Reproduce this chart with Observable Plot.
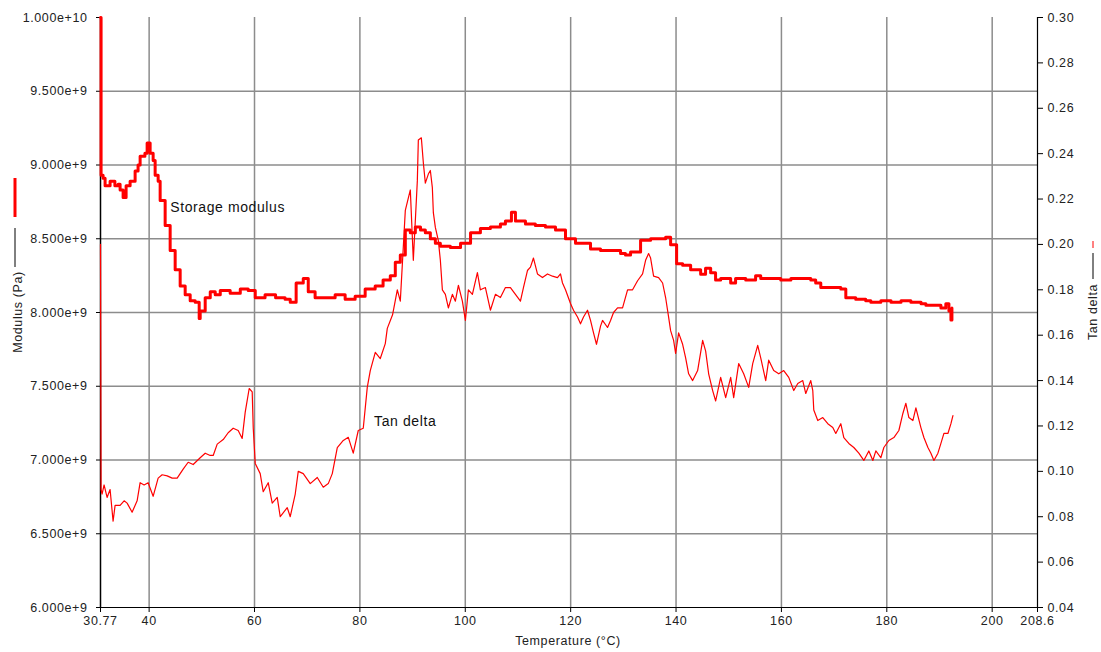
<!DOCTYPE html>
<html><head><meta charset="utf-8">
<script src="https://cdn.jsdelivr.net/npm/d3@7"></script>
<script src="https://cdn.jsdelivr.net/npm/@observablehq/plot@0.6"></script>
<style>
html,body{margin:0;padding:0;background:#fff;}
#chart svg{display:block;}
#chart svg text{letter-spacing:0.6px;}
</style>
</head><body><div id="chart"></div>
<script>
// ---- data ----
const xTicks = [30.77, 40, 60, 80, 100, 120, 140, 160, 180, 200, 208.6];
const xGridTicks = [40, 60, 80, 100, 120, 140, 160, 180, 200];
const modulusTicks = [6.0e9, 6.5e9, 7.0e9, 7.5e9, 8.0e9, 8.5e9, 9.0e9, 9.5e9, 1.0e10];
const tanTicks = [0.04, 0.06, 0.08, 0.10, 0.12, 0.14, 0.16, 0.18, 0.20, 0.22, 0.24, 0.26, 0.28, 0.30];

// Storage modulus [temperature °C, modulus GPa-scale e9 Pa]
const storageModulus = [
 [30.77,10.0],[30.88,8.93],[31.26,8.91],[31.64,8.86],[32.59,8.89],[33.5,8.86],[34.11,8.87],[34.49,8.83],
 [35.06,8.78],[35.63,8.86],[36.39,8.89],[37.34,8.96],[37.9,9.0],[38.29,9.06],[39.2,9.08],[39.62,9.15],
 [40.19,9.08],[40.76,9.03],[41.14,8.93],[41.71,8.89],[42.09,8.76],[43.04,8.59],[43.99,8.42],[44.94,8.29],
 [45.89,8.18],[46.84,8.12],[47.79,8.08],[48.74,8.07],[49.5,7.96],[49.69,8.01],[50.64,8.10],[51.6,8.14],
 [52.54,8.12],[53.5,8.15],[55.38,8.13],[57.3,8.16],[58.8,8.15],[60.14,8.10],[62.0,8.12],[64.0,8.10],
 [65.8,8.09],[66.78,8.07],[67.9,8.20],[69.25,8.23],[70.2,8.14],[71.5,8.10],[73.4,8.10],[75.3,8.12],
 [77.2,8.09],[79.1,8.11],[81.0,8.16],[82.9,8.18],[84.4,8.22],[85.77,8.25],[86.72,8.34],[87.67,8.39],
 [88.62,8.56],[89.57,8.54],[90.52,8.58],[91.5,8.56],[92.42,8.54],[93.37,8.50],[94.32,8.47],[95.27,8.45],
 [97.17,8.44],[99.1,8.47],[100.02,8.47],[101.0,8.54],[102.87,8.57],[104.77,8.58],[106.67,8.60],[107.62,8.62],
 [108.76,8.68],[109.52,8.62],[111.42,8.60],[113.3,8.59],[115.22,8.58],[117.12,8.56],[119.02,8.50],[120.92,8.47],
 [122.8,8.47],[123.77,8.43],[125.67,8.42],[127.57,8.42],[129.47,8.40],[130.4,8.39],[131.37,8.41],[133.27,8.49],
 [135.17,8.50],[137.1,8.50],[138.02,8.51],[138.97,8.46],[140.11,8.33],[141.25,8.32],[142.77,8.29],[144.67,8.26],
 [145.6,8.30],[146.57,8.27],[147.5,8.22],[148.47,8.23],[150.37,8.20],[151.3,8.23],[153.22,8.22],[155.1,8.25],
 [156.07,8.23],[158.0,8.23],[159.87,8.22],[161.8,8.23],[163.67,8.23],[165.57,8.22],[166.5,8.20],[167.47,8.17],
 [169.4,8.17],[171.27,8.16],[172.22,8.10],[174.1,8.09],[176.0,8.08],[176.97,8.07],[178.87,8.08],[180.8,8.07],
 [182.7,8.08],[184.57,8.07],[186.5,8.06],[187.42,8.05],[189.3,8.05],[190.27,8.03],[191.2,8.06],[191.79,8.01],
 [192.17,7.95],[192.36,8.03]
];

// Tan delta [temperature °C, tan delta]
const tanDelta = [
 [30.77,0.200],[30.88,0.092],[31.07,0.090],[31.45,0.094],[32.02,0.0885],[32.59,0.092],[33.16,0.078],[33.54,0.085],
 [34.49,0.085],[35.25,0.087],[35.82,0.086],[36.77,0.082],[37.72,0.087],[38.29,0.095],[39.05,0.094],[39.81,0.095],
 [40.76,0.089],[41.71,0.097],[42.47,0.0985],[43.42,0.098],[44.37,0.097],[45.32,0.097],[46.46,0.101],[47.41,0.104],
 [48.36,0.103],[49.69,0.106],[50.64,0.108],[51.59,0.107],[52.16,0.107],[52.92,0.112],[54.06,0.114],[55.0,0.117],
 [55.95,0.119],[56.9,0.118],[57.66,0.1145],[58.23,0.126],[58.99,0.1365],[59.56,0.135],[59.76,0.119],[60.14,0.1035],
 [61.08,0.099],[61.65,0.091],[62.60,0.095],[63.36,0.086],[64.31,0.0885],[64.88,0.080],[66.21,0.084],[66.78,0.080],
 [67.73,0.090],[68.30,0.100],[69.25,0.099],[70.58,0.0946],[71.91,0.0973],[73.05,0.093],[74.00,0.0946],[74.76,0.099],
 [75.71,0.1105],[76.85,0.1136],[77.80,0.115],[78.74,0.108],[79.69,0.118],[80.64,0.119],[81.40,0.137],[81.97,0.1444],
 [82.92,0.1524],[83.87,0.1497],[84.82,0.1563],[85.20,0.163],[86.2,0.169],[87.10,0.180],[87.67,0.175],[88.62,0.215],
 [89.57,0.224],[90.14,0.193],[90.90,0.228],[91.09,0.246],[91.66,0.247],[92.04,0.236],[92.42,0.227],[92.99,0.231],
 [93.37,0.2326],[93.75,0.225],[93.94,0.214],[94.32,0.2075],[94.89,0.2017],[95.27,0.193],[95.65,0.180],[96.22,0.178],
 [96.79,0.172],[97.55,0.178],[98.12,0.175],[98.69,0.182],[99.45,0.175],[100.02,0.1665],[100.59,0.180],[101.35,0.178],
 [102.30,0.1876],[102.87,0.180],[103.82,0.181],[104.77,0.171],[105.72,0.178],[106.67,0.1766],[107.62,0.181],[108.57,0.181],
 [109.52,0.178],[110.47,0.175],[111.04,0.181],[111.80,0.1885],[112.37,0.190],[112.94,0.194],[113.70,0.187],[114.65,0.1854],
 [115.60,0.187],[116.55,0.186],[117.50,0.1854],[118.07,0.187],[118.45,0.183],[119.02,0.180],[119.97,0.174],[120.54,0.171],
 [121.30,0.168],[121.87,0.165],[122.44,0.168],[123.20,0.171],[123.77,0.1665],[124.34,0.161],[124.9,0.156],[125.67,0.164],
 [126.05,0.1665],[127.00,0.1634],[127.57,0.1665],[128.14,0.170],[128.90,0.172],[129.85,0.172],[130.80,0.180],[131.75,0.180],
 [132.70,0.184],[133.65,0.187],[134.22,0.193],[134.79,0.196],[135.17,0.194],[135.74,0.186],[136.69,0.1854],[137.45,0.183],
 [138.02,0.1766],[138.59,0.168],[138.97,0.162],[139.54,0.1577],[139.92,0.152],[140.49,0.161],[141.25,0.156],[141.82,0.150],
 [142.39,0.143],[143.15,0.140],[144.10,0.1444],[145.05,0.1577],[145.62,0.153],[146.19,0.143],[146.95,0.1356],[147.52,0.131],
 [148.47,0.1414],[149.42,0.1325],[150.37,0.1414],[150.94,0.1325],[151.89,0.1475],[152.84,0.143],[153.79,0.137],[154.55,0.1475],
 [155.50,0.1555],[156.07,0.150],[157.02,0.140],[157.59,0.149],[158.54,0.1444],[159.49,0.143],[160.44,0.1444],[161.39,0.1414],
 [162.34,0.1356],[163.10,0.1387],[164.05,0.140],[164.62,0.1343],[165.57,0.140],[165.95,0.1356],[166.14,0.127],[166.90,0.1224],
 [167.85,0.1237],[168.80,0.121],[169.75,0.1193],[170.32,0.1167],[171.27,0.121],[171.84,0.1149],[172.79,0.1123],[173.74,0.1105],
 [174.69,0.108],[175.64,0.1048],[176.59,0.109],[177.35,0.1048],[177.92,0.109],[178.87,0.106],[179.44,0.1105],[180.39,0.1136],
 [181.34,0.1149],[182.29,0.118],[183.05,0.1255],[183.62,0.130],[184.19,0.1237],[184.95,0.1224],[185.52,0.128],[186.47,0.1193],
 [187.04,0.1149],[187.80,0.1105],[188.37,0.108],[188.94,0.1048],[189.70,0.108],[190.27,0.1123],[190.84,0.1167],[191.60,0.1167],
 [192.17,0.121],[192.55,0.1246]
];

const seriesLabels = [
 {x: 44.0, y: 8.712e9, text: "Storage modulus"},
 {x: 82.7, y: 7.261e9, text: "Tan delta"}
];
const xTitle = "Temperature (°C)";
const leftTitle = "Modulus (Pa)";
const rightTitle = "Tan delta";

// ---- scales helpers ----
const modDomain = [6e9, 1e10];
const tanDomain = [0.04, 0.30];
const tanToMod = t => modDomain[0] + (t - tanDomain[0]) / (tanDomain[1] - tanDomain[0]) * (modDomain[1] - modDomain[0]);
const modToTan = m => tanDomain[0] + (m - modDomain[0]) / (modDomain[1] - modDomain[0]) * (tanDomain[1] - tanDomain[0]);
const fmtSci = d => { const e = Math.floor(Math.log10(d) + 1e-9); return (d / Math.pow(10, e)).toFixed(3) + "e+" + e; };

const gridStyle = {stroke: "#8c8c8c", strokeOpacity: 1, strokeWidth: 1.5};

const chart = Plot.plot({
  width: 1101, height: 652,
  marginLeft: 100, marginRight: 64, marginTop: 17, marginBottom: 45,
  x: {domain: [30.77, 208.6]},
  y: {domain: modDomain},
  style: {fontFamily: "'Liberation Sans', Arial, sans-serif", fontSize: "12.5px", color: "#222", background: "#fff"},
  marks: [
    Plot.gridX(xGridTicks, gridStyle),
    Plot.gridY(modulusTicks.slice(1, -1), gridStyle),
    Plot.axisX({ticks: xTicks, tickFormat: d => String(d), tickSize: 5, tickPadding: 4, label: null, stroke: "#000"}),
    Plot.axisY({ticks: modulusTicks, tickFormat: fmtSci, tickSize: 4, tickPadding: 9, label: null, stroke: "#000"}),
    Plot.axisY({anchor: "right", ticks: tanTicks.map(tanToMod), tickFormat: d => modToTan(d).toFixed(2), tickSize: 5, tickPadding: 5, label: null, stroke: "#000"}),
    Plot.ruleX([30.77], {stroke: "#000", strokeWidth: 1.5}),
    Plot.ruleX([208.6], {stroke: "#000", strokeWidth: 1.2}),
    Plot.ruleY([6e9], {stroke: "#000", strokeWidth: 1.2}),
    Plot.line(tanDelta, {x: d => d[0], y: d => tanToMod(d[1]), stroke: "#ff0000", strokeWidth: 1.2}),
    Plot.line(storageModulus, {x: d => d[0], y: d => d[1] * 1e9, stroke: "#ff0000", strokeWidth: 3, curve: "step-after"}),
    Plot.text(seriesLabels, {x: "x", y: "y", text: "text", textAnchor: "start", fontSize: 14, fill: "#111"})
  ]
});

document.getElementById("chart").appendChild(chart);

// axis titles and legend keys
const svg = d3.select(chart);
const g = svg.append("g").attr("font-family", "'Liberation Sans', Arial, sans-serif").attr("font-size", 12.5).attr("fill", "#222");
g.append("text").attr("x", 568).attr("y", 645).attr("text-anchor", "middle").text(xTitle);
g.append("text").attr("transform", "translate(22,312) rotate(-90)").attr("text-anchor", "middle").text(leftTitle);
g.append("line").attr("x1", 15).attr("x2", 15).attr("y1", 178).attr("y2", 217).attr("stroke", "#ff0000").attr("stroke-width", 3);
g.append("line").attr("x1", 15).attr("x2", 15).attr("y1", 228).attr("y2", 267).attr("stroke", "#000").attr("stroke-width", 1);
g.append("text").attr("transform", "translate(1097,312) rotate(-90)").attr("text-anchor", "middle").text(rightTitle);
g.append("line").attr("x1", 1093).attr("x2", 1093).attr("y1", 253).attr("y2", 279).attr("stroke", "#000").attr("stroke-width", 1);
g.append("line").attr("x1", 1093).attr("x2", 1093).attr("y1", 241).attr("y2", 248).attr("stroke", "#ff0000").attr("stroke-width", 1);
</script>
</body></html>
